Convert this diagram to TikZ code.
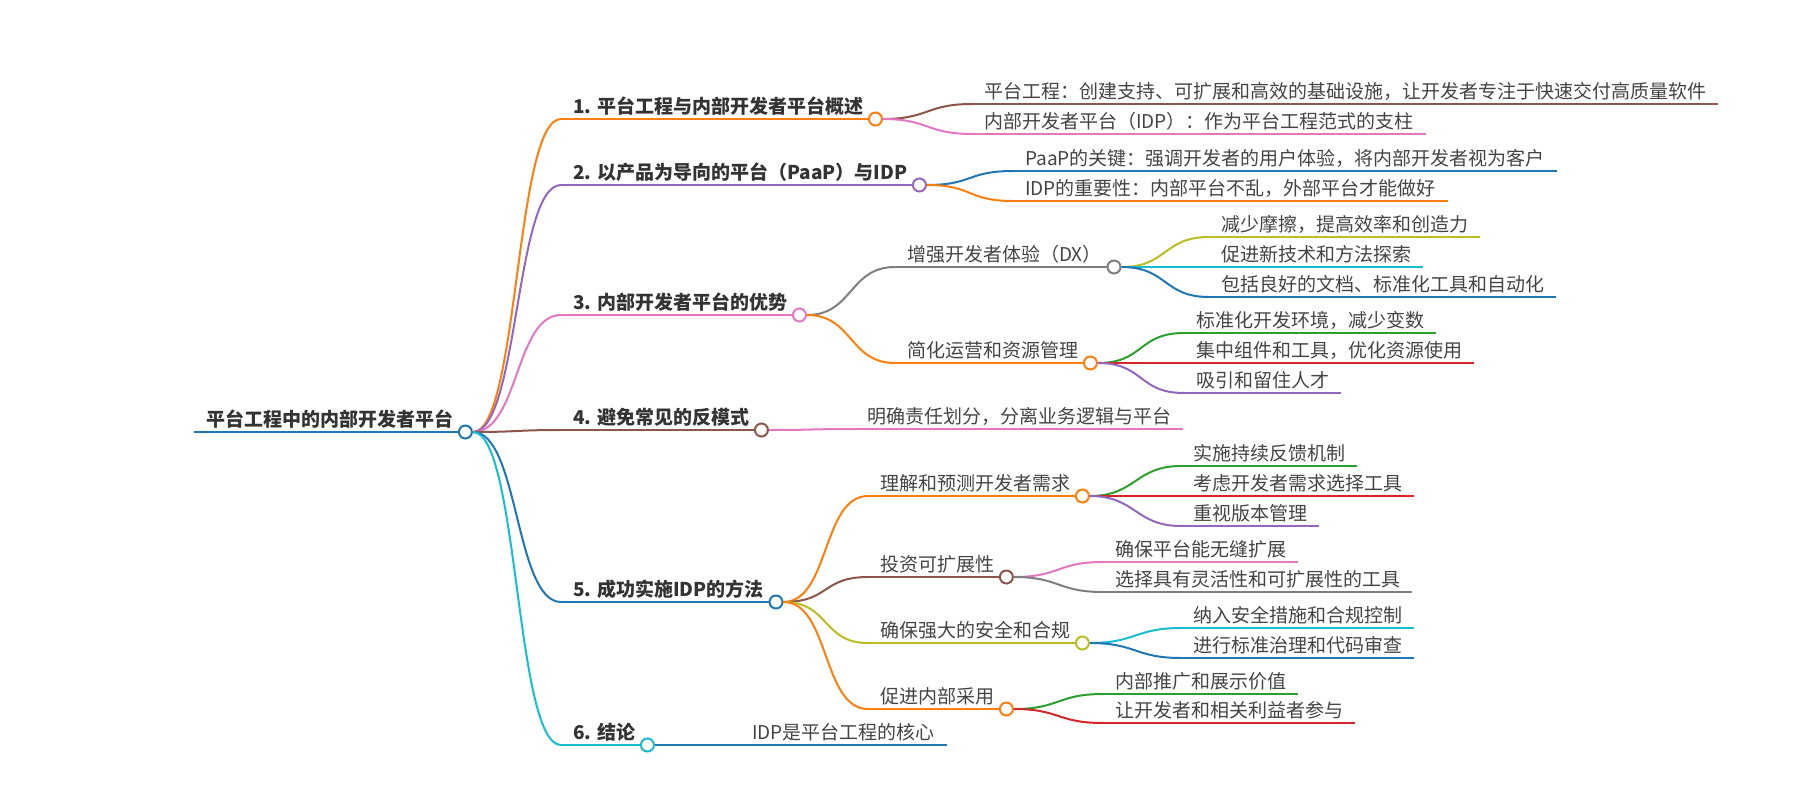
\documentclass[tikz,border=0pt]{standalone}
\usepackage{fontspec}
\setmainfont{Noto Sans CJK SC}
\usetikzlibrary{positioning}
\definecolor{tabblue}{HTML}{1F77B4}
\definecolor{taborange}{HTML}{FF7F0E}
\definecolor{tabgreen}{HTML}{2CA02C}
\definecolor{tabred}{HTML}{D62728}
\definecolor{tabpurple}{HTML}{9467BD}
\definecolor{tabbrown}{HTML}{8C564B}
\definecolor{tabpink}{HTML}{E377C2}
\definecolor{tabgray}{HTML}{7F7F7F}
\definecolor{tabolive}{HTML}{BCBD22}
\definecolor{tabcyan}{HTML}{17BECF}
\definecolor{textgray}{HTML}{444444}
\definecolor{textdark}{HTML}{333333}

\begin{document}
\begin{tikzpicture}[x=1pt,y=-1pt,
	leaf_node/.style={anchor=south west,inner xsep=12pt,inner ysep=0pt,text depth=5pt,text=textgray,font=\fontsize{19}{23}\selectfont,
		append after command={(\tikzlastnode.south west) edge[draw=#1,line width=2pt] (\tikzlastnode.south east)}},
	topic_node/.style={leaf_node=#1,text=textdark,font=\bfseries\fontsize{19}{23}\selectfont},
	dot_node/.style={circle,draw=#1,fill=white,line width=2pt,minimum size=13pt,inner sep=0pt},
	link/.style={draw=#1,line width=2pt,out=0,in=180,distance=46pt}]
	\useasboundingbox (0,0) rectangle (1800,800);

	% root
	\node[topic_node=tabblue] (root) at (194,432) {平台工程中的内部开发者平台};
	\node[dot_node=tabblue] (c0) at (root.south east) {};

	% first level
	\node[topic_node=taborange] (p1) at (561,119) {1. 平台工程与内部开发者平台概述};
	\node[dot_node=taborange] (c1) at (p1.south east) {};
	\node[topic_node=tabpurple] (p2) at (561,185) {2. 以产品为导向的平台（PaaP）与IDP};
	\node[dot_node=tabpurple] (c2) at (p2.south east) {};
	\node[topic_node=tabpink] (p3) at (561,315) {3. 内部开发者平台的优势};
	\node[dot_node=tabpink] (c3) at (p3.south east) {};
	\node[topic_node=tabbrown] (p4) at (561,430) {4. 避免常见的反模式};
	\node[dot_node=tabbrown] (c4) at (p4.south east) {};
	\node[topic_node=tabblue] (p5) at (561,602) {5. 成功实施IDP的方法};
	\node[dot_node=tabblue] (c5) at (p5.south east) {};
	\node[topic_node=tabcyan] (p6) at (561,745) {6. 结论};
	\node[dot_node=tabcyan] (c6) at (p6.south east) {};

	% 1
	\node[leaf_node=tabbrown] (p1a) at (972,104) {平台工程：创建支持、可扩展和高效的基础设施，让开发者专注于快速交付高质量软件};
	\node[leaf_node=tabpink] (p1b) at (972,134) {内部开发者平台（IDP）：作为平台工程范式的支柱};
	% 2
	\node[leaf_node=tabblue] (p2a) at (1013,171) {PaaP的关键：强调开发者的用户体验，将内部开发者视为客户};
	\node[leaf_node=taborange] (p2b) at (1013,201) {IDP的重要性：内部平台不乱，外部平台才能做好};
	% 3
	\node[leaf_node=tabgray] (p3a) at (895,267) {增强开发者体验（DX）};
	\node[dot_node=tabgray] (c3a) at (p3a.south east) {};
	\node[leaf_node=tabolive] (p3a1) at (1209,237) {减少摩擦，提高效率和创造力};
	\node[leaf_node=tabcyan] (p3a2) at (1209,267) {促进新技术和方法探索};
	\node[leaf_node=tabblue] (p3a3) at (1209,297) {包括良好的文档、标准化工具和自动化};
	\node[leaf_node=taborange] (p3b) at (895,363) {简化运营和资源管理};
	\node[dot_node=taborange] (c3b) at (p3b.south east) {};
	\node[leaf_node=tabgreen] (p3b1) at (1184,333) {标准化开发环境，减少变数};
	\node[leaf_node=tabred] (p3b2) at (1184,363) {集中组件和工具，优化资源使用};
	\node[leaf_node=tabpurple] (p3b3) at (1184,393) {吸引和留住人才};
	% 4
	\node[leaf_node=tabpink] (p4a) at (855,429) {明确责任划分，分离业务逻辑与平台};
	% 5
	\node[leaf_node=taborange] (p5a) at (868,496) {理解和预测开发者需求};
	\node[dot_node=taborange] (c5a) at (p5a.south east) {};
	\node[leaf_node=tabgreen] (p5a1) at (1181,466) {实施持续反馈机制};
	\node[leaf_node=tabred] (p5a2) at (1181,496) {考虑开发者需求选择工具};
	\node[leaf_node=tabpurple] (p5a3) at (1181,526) {重视版本管理};
	\node[leaf_node=tabbrown] (p5b) at (868,577) {投资可扩展性};
	\node[dot_node=tabbrown] (c5b) at (p5b.south east) {};
	\node[leaf_node=tabpink] (p5b1) at (1103,562) {确保平台能无缝扩展};
	\node[leaf_node=tabgray] (p5b2) at (1103,592) {选择具有灵活性和可扩展性的工具};
	\node[leaf_node=tabolive] (p5c) at (868,643) {确保强大的安全和合规};
	\node[dot_node=tabolive] (c5c) at (p5c.south east) {};
	\node[leaf_node=tabcyan] (p5c1) at (1181,628) {纳入安全措施和合规控制};
	\node[leaf_node=tabblue] (p5c2) at (1181,658) {进行标准治理和代码审查};
	\node[leaf_node=taborange] (p5d) at (868,709) {促进内部采用};
	\node[dot_node=taborange] (c5d) at (p5d.south east) {};
	\node[leaf_node=tabgreen] (p5d1) at (1103,694) {内部推广和展示价值};
	\node[leaf_node=tabred] (p5d2) at (1103,723) {让开发者和相关利益者参与};
	% 6
	\node[leaf_node=tabblue] (p6a) at (740,745) {IDP是平台工程的核心};

	% connectors
	\draw[link=taborange] (c0.east) to (p1.south west);
	\draw[link=tabpurple] (c0.east) to (p2.south west);
	\draw[link=tabpink] (c0.east) to (p3.south west);
	\draw[link=tabbrown] (c0.east) to (p4.south west);
	\draw[link=tabblue] (c0.east) to (p5.south west);
	\draw[link=tabcyan] (c0.east) to (p6.south west);

	\draw[link=tabbrown] (c1.east) to (p1a.south west);
	\draw[link=tabpink] (c1.east) to (p1b.south west);
	\draw[link=tabblue] (c2.east) to (p2a.south west);
	\draw[link=taborange] (c2.east) to (p2b.south west);
	\draw[link=tabgray] (c3.east) to (p3a.south west);
	\draw[link=taborange] (c3.east) to (p3b.south west);
	\draw[link=tabolive] (c3a.east) to (p3a1.south west);
	\draw[link=tabcyan] (c3a.east) to (p3a2.south west);
	\draw[link=tabblue] (c3a.east) to (p3a3.south west);
	\draw[link=tabgreen] (c3b.east) to (p3b1.south west);
	\draw[link=tabred] (c3b.east) to (p3b2.south west);
	\draw[link=tabpurple] (c3b.east) to (p3b3.south west);
	\draw[link=tabpink] (c4.east) to (p4a.south west);
	\draw[link=taborange] (c5.east) to (p5a.south west);
	\draw[link=tabbrown] (c5.east) to (p5b.south west);
	\draw[link=tabolive] (c5.east) to (p5c.south west);
	\draw[link=taborange] (c5.east) to (p5d.south west);
	\draw[link=tabgreen] (c5a.east) to (p5a1.south west);
	\draw[link=tabred] (c5a.east) to (p5a2.south west);
	\draw[link=tabpurple] (c5a.east) to (p5a3.south west);
	\draw[link=tabpink] (c5b.east) to (p5b1.south west);
	\draw[link=tabgray] (c5b.east) to (p5b2.south west);
	\draw[link=tabcyan] (c5c.east) to (p5c1.south west);
	\draw[link=tabblue] (c5c.east) to (p5c2.south west);
	\draw[link=tabgreen] (c5d.east) to (p5d1.south west);
	\draw[link=tabred] (c5d.east) to (p5d2.south west);
	\draw[link=tabblue] (c6.east) to (p6a.south west);
\end{tikzpicture}
\end{document}
